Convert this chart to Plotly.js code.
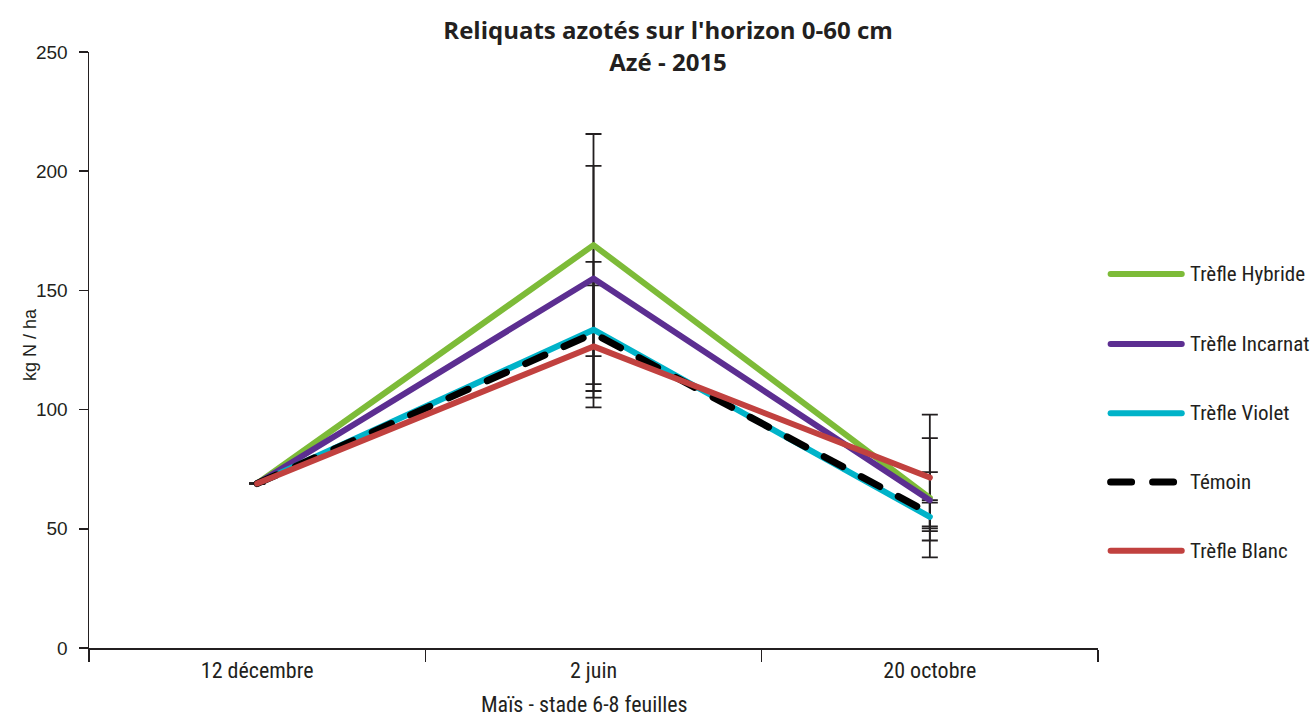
<!DOCTYPE html>
<html>
<head>
<meta charset="utf-8">
<script src="https://cdn.plot.ly/plotly-3.0.1.min.js"></script>
<style>html,body{margin:0;padding:0;background:#fff;}#chart{width:1312px;height:718px;}</style>
</head>
<body>
<div id="chart"></div>
<script>
const categories = ['12 décembre', '2 juin', '20 octobre'];
const seriesNames = ['Trèfle Hybride', 'Trèfle Incarnat', 'Trèfle Violet', 'Témoin', 'Trèfle Blanc'];
const hybride  = [69, 169, 63];
const incarnat = [69, 155, 62];
const violet   = [69, 133.5, 55];
const temoin   = [69, 132, 56.5];
const blanc    = [69, 126.5, 71.5];
const errHybride  = [null, 46.6, 25];
const errIncarnat = [null, 47.2, 11.8];
const errViolet   = [null, 28.5, 6];
const errTemoin   = [null, 21.3, 5.5];
const errBlanc    = [null, 25.6, 26.4];
const yTicks = [0, 50, 100, 150, 200, 250];

const values = [hybride, incarnat, violet, temoin, blanc];
const errors = [errHybride, errIncarnat, errViolet, errTemoin, errBlanc];
const colors = ['#7dbb38', '#5c2e91', '#00b3c9', '#000000', '#c1413f'];
const dashes = ['solid', 'solid', 'solid', 'dash', 'solid'];
const widths = [6, 6, 6, 7, 6];
const NARROW = '"Liberation Sans Narrow", "Roboto Condensed", Roboto, sans-serif';
const SANS = '"Liberation Sans", Arial, sans-serif';
const TXT = '#231f20';

const traces = [];
// error bars first (under lines)
values.forEach((v, i) => {
  traces.push({
    type: 'scatter', mode: 'markers', x: categories, y: v,
    marker: {size: 0.1, color: 'rgba(0,0,0,0)'},
    error_y: {type: 'data', array: errors[i], visible: true, color: TXT, thickness: 1.8, width: 8},
    showlegend: false, hoverinfo: 'skip'
  });
});
values.forEach((v, i) => {
  traces.push({
    type: 'scatter', mode: 'lines', x: categories, y: v, name: seriesNames[i],
    line: {color: colors[i], width: widths[i], dash: dashes[i]},
    showlegend: false
  });
});

// manual legend
const legY = [0.6275, 0.510, 0.394, 0.2785, 0.163];
const shapes = [], annotations = [];
seriesNames.forEach((n, i) => {
  shapes.push({type: 'line', xref: 'paper', yref: 'paper', x0: 1.0125, x1: 1.083, y0: legY[i], y1: legY[i],
    line: {color: colors[i], width: widths[i], dash: dashes[i]}});
  annotations.push({xref: 'paper', yref: 'paper', x: 1.0895, y: legY[i], xanchor: 'left', yanchor: 'middle',
    text: n, showarrow: false, font: {family: NARROW, size: 21, color: TXT}});
});
// axis titles
annotations.push({xref: 'paper', yref: 'paper', x: 0.4906, y: -0.094, xanchor: 'center', yanchor: 'middle',
  text: 'Maïs - stade 6-8 feuilles', showarrow: false, font: {family: NARROW, size: 22, color: TXT}});
annotations.push({xref: 'paper', yref: 'paper', x: -0.0585, y: 0.51, xanchor: 'center', yanchor: 'middle',
  textangle: -90, text: 'kg N / ha', showarrow: false, font: {family: SANS, size: 18, color: TXT}});

const layout = {
  width: 1312, height: 718,
  margin: {l: 89, r: 214, t: 52, b: 70},
  paper_bgcolor: '#fff', plot_bgcolor: '#fff',
  showlegend: false,
  font: {family: NARROW, color: TXT, size: 20},
  title: {text: "<b>Reliquats azotés sur l'horizon 0-60 cm<br>Azé - 2015</b>",
    x: 0.5092, xanchor: 'center', y: 0.945, yanchor: 'top', yref: 'container',
    font: {family: '"Open Sans", Roboto, sans-serif', size: 24, color: TXT}},
  xaxis: {type: 'category', range: [-0.5, 2.5], tickson: 'boundaries', ticks: 'outside', ticklen: 12,
    tickwidth: 1.5, tickcolor: TXT, showline: true, linecolor: TXT, linewidth: 1.5,
    showgrid: false, zeroline: false, ticklabelstandoff: 2, tickfont: {family: NARROW, size: 22, color: TXT}},
  yaxis: {range: [0, 250], tickvals: yTicks, ticks: 'outside', ticklen: 9, tickwidth: 1.5, tickcolor: TXT,
    showline: true, linecolor: TXT, linewidth: 1.5, showgrid: false, zeroline: false,
    ticklabelstandoff: 7, tickfont: {family: SANS, size: 19, color: TXT}},
  shapes: shapes, annotations: annotations
};

Plotly.newPlot('chart', traces, layout, {displayModeBar: false, staticPlot: true}).then(() => {
  document.querySelectorAll('.scatterlayer .js-line, .shapelayer path').forEach(p => {
    p.style.strokeLinecap = 'round';
    p.style.strokeLinejoin = 'round';
  });
});
</script>
</body>
</html>
